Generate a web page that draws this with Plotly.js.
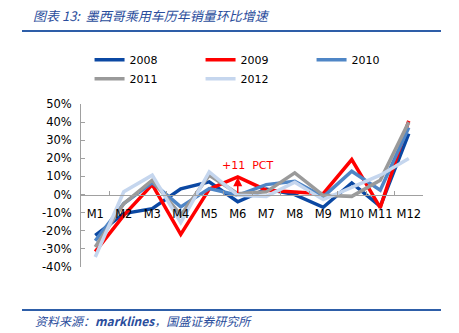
<!DOCTYPE html>
<html>
<head>
<meta charset="utf-8">
<script src="https://cdn.plot.ly/plotly-3.0.1.min.js"></script>
<style>html,body{margin:0;padding:0;background:#fff;}#chart{width:459px;height:333px;}</style>
</head>
<body>
<div id="chart"></div>
<script>
const months = ["M1","M2","M3","M4","M5","M6","M7","M8","M9","M10","M11","M12"];
const s2008 = [-22.5, -10.5, -7.8, 3.2, 7.0, -4.0, 3.0, 0.0, -7.0, 6.4, -6.5, 33.7];
const s2009 = [-31.5, -11.5, 5.5, -22.0, 3.0, 9.7, 2.4, 1.5, 0.5, 19.3, -7.2, 40.7];
const s2010 = [-25.5, -5.0, 6.6, -6.8, 3.3, -0.4, 5.5, 7.3, -1.3, 12.9, 2.4, 37.0];
const s2011 = [-29.0, -5.0, 7.9, -11.4, 10.7, 0.5, 1.5, 12.0, -0.4, -1.0, 7.9, 40.0];
const s2012 = [-34.5, 1.5, 10.7, -15.5, 12.5, -0.4, -1.0, 6.8, -2.8, 3.9, 10.7, 19.9];
const seriesNames = ["2008","2009","2010","2011","2012"];
const seriesData = [s2008, s2009, s2010, s2011, s2012];
const colors = ["#0b48a3", "#ff0000", "#4f86c6", "#9a9a9a", "#c5d6ee"];
const yTicks = [50,40,30,20,10,0,-10,-20,-30,-40];

const traces = seriesData.map((d,i)=>({
  x: months, y: d, name: seriesNames[i], type: "scatter", mode: "lines",
  line: {color: colors[i], width: 3.5}
}));

const font = "DejaVu Sans, Verdana, sans-serif";
const layout = {
  width: 459, height: 333,
  margin: {l: 81, r: 36, t: 104, b: 66},
  paper_bgcolor: "#fff", plot_bgcolor: "#fff",
  font: {family: font, size: 11, color: "#000"},
  showlegend: true,
  legend: {orientation: "h", x: 0.025, xanchor: "left", y: 1.36, yanchor: "top",
    entrywidth: 66, font: {family: font, size: 11, color: "#000"}, traceorder: "normal",
    itemwidth: 30, tracegroupgap: 0},
  title: {text: "图表 13:  墨西哥乘用车历年销量环比增速", xref: "container", yref: "container",
    x: 33/459, xanchor: "left", y: 1 - 16/333, yanchor: "middle",
    font: {family: "Noto Sans CJK SC", size: 13, color: "#2a4d9c", style: "italic"}},
  xaxis: {type: "category", range: [-0.5, 11.5], anchor: "free", position: 4/9, showline: true, linecolor: "#a0a0a0", linewidth: 1,
    ticks: "inside", tickson: "boundaries", ticklen: 4, tickcolor: "#a0a0a0", showgrid: false, zeroline: false,
    tickangle: 0, ticklabelstandoff: 9, tickfont: {family: font, size: 11.5, color: "#000"}, fixedrange: true},
  yaxis: {range: [-40, 50], tickvals: yTicks, ticktext: yTicks.map(v=>v+"%"),
    showline: true, linecolor: "#a0a0a0", linewidth: 1, ticks: "inside", ticklen: 4, tickcolor: "#a0a0a0",
    showgrid: false, zeroline: false, tickfont: {family: font, size: 11.5, color: "#000"}, ticklabelstandoff: 6},
  shapes: [
    {type: "line", xref: "paper", yref: "paper", x0: -0.1725, x1: 1.0526, y0: (267-31)/163, y1: (267-31)/163,
      line: {color: "#2e5ea8", width: 2}},
    {type: "line", xref: "paper", yref: "paper", x0: -0.1725, x1: 1.0526, y0: (267-310)/163, y1: (267-310)/163,
      line: {color: "#2e5ea8", width: 2}}
  ],
  annotations: [
    {x: 5, y: 9.5, xref: "x", yref: "y", ax: 5, ay: 0, axref: "x", ayref: "y", text: "",
      showarrow: true, arrowhead: 2, arrowsize: 1.2, arrowwidth: 1.5, arrowcolor: "#ff0000"},
    {x: 5.37, y: 16.2, xref: "x", yref: "y", text: "+11  PCT", showarrow: false,
      font: {family: font, size: 11, color: "#ff0000"}},
    {x: (33-81)/342, y: (267-320)/163, xref: "paper", yref: "paper", xanchor: "left", yanchor: "middle",
      text: "资料来源：<b>marklines</b>，国盛证券研究所", showarrow: false,
      font: {family: "Noto Sans CJK SC", size: 12, color: "#2a4d9c", style: "italic"}}
  ]
};
Plotly.newPlot("chart", traces, layout, {displayModeBar: false, staticPlot: true});
</script>
</body>
</html>
